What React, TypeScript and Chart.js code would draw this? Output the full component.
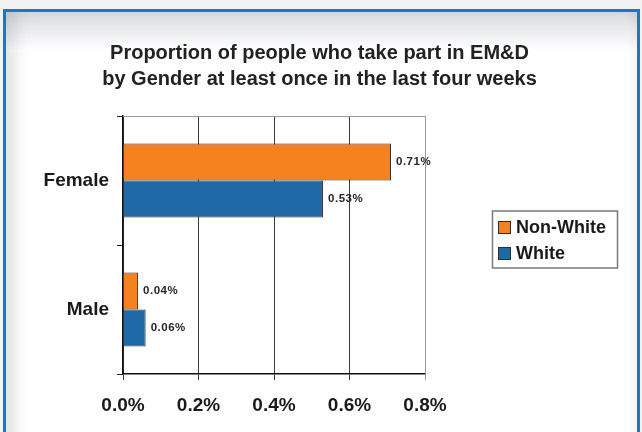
import React, { useEffect, useRef } from "react";
import { Chart, registerables } from "chart.js";

Chart.register(...registerables);

const titleLines = [
  "Proportion of people who take part in EM&D",
  "by Gender at least once in the last four weeks",
];
const categories = ["Female", "Male"];
const seriesNames = ["Non-White", "White"];
const nonWhiteValues = [0.71, 0.04];
const whiteValues = [0.53, 0.06];
const xTickLabels = ["0.0%", "0.2%", "0.4%", "0.6%", "0.8%"];

const FONT = "'Liberation Sans', Arial, sans-serif";
const ORANGE = "#f5821f";
const BLUE = "#1f6aa6";
const BAR_EDGE = "#2e2e2e";

// Light grey frame around the plot area (top and right edges)
const plotFrame = {
  id: "plotFrame",
  beforeDatasetsDraw(chart: any) {
    const { ctx, chartArea } = chart;
    ctx.save();
    ctx.strokeStyle = "#9a9a9a";
    ctx.lineWidth = 1;
    ctx.beginPath();
    ctx.moveTo(chartArea.left, chartArea.top + 0.5);
    ctx.lineTo(chartArea.right + 0.5, chartArea.top + 0.5);
    ctx.lineTo(chartArea.right + 0.5, chartArea.bottom);
    ctx.stroke();
    ctx.restore();
  },
};

// Value labels at the end of each bar
const valueLabels = {
  id: "valueLabels",
  afterDatasetsDraw(chart: any) {
    const { ctx } = chart;
    ctx.save();
    ctx.font = `bold 11.5px ${FONT}`;
    (ctx as any).letterSpacing = "0.5px";
    ctx.fillStyle = "#262626";
    ctx.textAlign = "left";
    ctx.textBaseline = "middle";
    chart.data.datasets.forEach((ds: any, di: number) => {
      const meta = chart.getDatasetMeta(di);
      meta.data.forEach((bar: any, i: number) => {
        const v = ds.data[i] as number;
        ctx.fillText(`${v.toFixed(2)}%`, bar.x + 5, bar.y);
      });
    });
    ctx.restore();
  },
};

// Boxed legend to the right of the plot
const boxedLegend = {
  id: "boxedLegend",
  afterDraw(chart: any) {
    const { ctx, chartArea } = chart;
    const left = chartArea.right + 67;
    const w = 125;
    const rowH = 26;
    const h = 57;
    const top = (chartArea.top + chartArea.bottom) / 2 - 6 - h / 2;
    ctx.save();
    ctx.fillStyle = "#ffffff";
    ctx.fillRect(left, top, w, h);
    ctx.strokeStyle = "#7a7a7a";
    ctx.lineWidth = 1.5;
    ctx.strokeRect(left + 0.5, top + 0.5, w, h);
    ctx.font = `bold 18px ${FONT}`;
    ctx.textBaseline = "middle";
    ctx.textAlign = "left";
    chart.data.datasets.forEach((ds: any, i: number) => {
      const cy = top + 17 + i * rowH;
      ctx.fillStyle = ds.backgroundColor;
      ctx.fillRect(left + 6, cy - 6.5, 13, 13);
      ctx.strokeStyle = BAR_EDGE;
      ctx.lineWidth = 1;
      ctx.strokeRect(left + 6.5, cy - 6, 12, 12);
      ctx.fillStyle = "#1a1a1a";
      ctx.fillText(ds.label, left + 24, cy + 1);
    });
    ctx.restore();
  },
};

export default function App() {
  const canvasRef = useRef<HTMLCanvasElement | null>(null);

  useEffect(() => {
    document.body.style.margin = "0";
    const canvas = canvasRef.current;
    if (!canvas) return;
    const chart = new Chart(canvas, {
      type: "bar",
      data: {
        labels: categories,
        datasets: [
          {
            label: seriesNames[0],
            data: nonWhiteValues,
            backgroundColor: ORANGE,
            borderColor: BAR_EDGE,
            borderWidth: 1,
          },
          {
            label: seriesNames[1],
            data: whiteValues,
            backgroundColor: BLUE,
            borderColor: BAR_EDGE,
            borderWidth: 1,
          },
        ],
      },
      options: {
        indexAxis: "y",
        responsive: false,
        animation: false,
        datasets: {
          bar: { categoryPercentage: 0.575, barPercentage: 1 },
        },
        layout: { padding: { left: 0, right: 3, top: 0, bottom: 0 } },
        plugins: {
          legend: { display: false },
          tooltip: { enabled: false },
          title: {
            display: true,
            text: titleLines,
            color: "#222",
            font: { family: FONT, size: 20, weight: "bold", lineHeight: 1.3 },
            padding: { top: 40, bottom: 24 },
          },
        },
        scales: {
          x: {
            type: "linear",
            min: 0,
            max: 0.8,
            ticks: {
              stepSize: 0.2,
              padding: 14,
              color: "#1a1a1a",
              font: { family: FONT, size: 19, weight: "bold" },
              callback: (_v: any, i: number) => xTickLabels[i],
            },
            grid: {
              tickLength: 6,
              lineWidth: 1,
              color: (c: any) =>
                c.tick && c.tick.value >= 0.8 ? "#9a9a9a" : "#3a3a3a",
            },
            border: { color: "#111", width: 1.5 },
            afterFit: (s: any) => {
              s.height = 58;
            },
          },
          y: {
            type: "category",
            grid: {
              drawOnChartArea: false,
              tickLength: 6,
              color: "#222",
              offset: true,
            },
            border: { color: "#111", width: 1.5 },
            ticks: {
              padding: 8,
              color: "#1a1a1a",
              font: { family: FONT, size: 19, weight: "bold" },
            },
            afterFit: (s: any) => {
              s.width = 123;
            },
          },
          legendSpace: {
            type: "linear",
            position: "right",
            display: true,
            grid: { display: false },
            ticks: { display: false },
            border: { display: false },
            afterFit: (s: any) => {
              s.width = 642 - 3 - 425;
            },
          },
        },
      } as any,
      plugins: [plotFrame, valueLabels, boxedLegend],
    });
    return () => chart.destroy();
  }, []);

  return (
    <div
      style={{
        position: "relative",
        width: 642,
        height: 432,
        overflow: "hidden",
        background: "#f2f2f2",
      }}
    >
      <div
        style={{
          position: "absolute",
          left: 3,
          top: 9,
          width: 631,
          height: 440,
          border: "3px solid #1c78c3",
          borderBottom: "none",
          background:
            "linear-gradient(to bottom, #d6d9dd 0px, #e6e8eb 14px, #ffffff 38px)",
          boxShadow:
            "inset 18px 0 16px -8px rgba(0,0,0,0.11), inset -10px 0 12px -8px rgba(0,0,0,0.06)",
        }}
      />
      <canvas
        ref={canvasRef}
        width={642}
        height={432}
        style={{ position: "absolute", left: 0, top: 0 }}
      />
    </div>
  );
}
